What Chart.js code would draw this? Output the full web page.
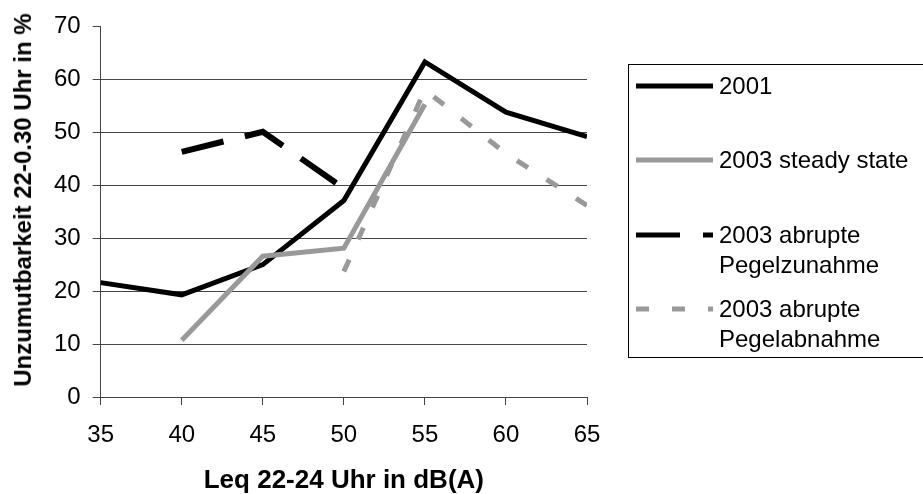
<!DOCTYPE html>
<html><head><meta charset="utf-8">
<script src="https://cdn.jsdelivr.net/npm/chart.js@4"></script>
<style>
html,body{margin:0;padding:0;background:#fff;}
#wrap{position:relative;width:923px;height:494px;overflow:hidden;font-family:"Liberation Sans",Arial,sans-serif;}
#c{position:absolute;left:0;top:0;}
#ytitle{position:absolute;left:23px;top:200px;transform:translate(-50%,-50%) rotate(-90deg);white-space:nowrap;font-weight:bold;font-size:24px;line-height:28px;color:#000;}
#legend{position:absolute;left:628px;top:64px;width:320px;height:294px;border:1px solid #000;box-sizing:border-box;}
.item{position:absolute;left:6px;font-size:24px;color:#000;line-height:30px;}
.item svg{position:absolute;left:0;}
.item span{position:absolute;left:84px;white-space:nowrap;}
</style></head>
<body><div id="wrap"><canvas id="c" width="923" height="494"></canvas>
<div id="ytitle"></div>
<div id="legend"></div></div>
<script>
const xValues = [35, 40, 45, 50, 55, 60, 65];
const s2001 = [21.6, 19.3, 25, 37.1, 63.3, 53.8, 49.2];
const sSteady = [null, 10.7, 26.6, 28.1, 55.3, null, null];
const sZunahme = [null, 46.3, 50.1, 39.4, null, null, null];
const sAbnahme = [null, null, null, 23.7, 58, 46, 36.2];
const seriesNames = ["2001", "2003 steady state", "2003 abrupte Pegelzunahme", "2003 abrupte Pegelabnahme"];
const yTicks = [0, 10, 20, 30, 40, 50, 60, 70];
const xTitle = 'Leq 22-24 Uhr in dB(A)';
const yTitle = 'Unzumutbarkeit 22-0.30 Uhr in %';

function pts(arr){ return xValues.map((x,i)=>({x:x,y:arr[i]})).filter(p=>p.y!==null); }

const GREY = '#999999';
const FAM = '"Liberation Sans", Arial, sans-serif';
const styles = [
  {color:'#000', width:5, dash:[]},
  {color:GREY, width:5, dash:[]},
  {color:'#000', width:6, dash:[43,22]},
  {color:GREY, width:5, dash:[13,22]}
];
const all = [s2001, sSteady, sZunahme, sAbnahme];

document.getElementById('ytitle').textContent = yTitle;

const ctx = document.getElementById('c');
new Chart(ctx, {
  type:'line',
  data:{datasets: all.map((a,i)=>({
    label: seriesNames[i], data: pts(a), order: 4 - i,
    borderColor: styles[i].color, borderWidth: styles[i].width,
    borderDash: styles[i].dash, pointRadius:0, fill:false, tension:0,
    borderCapStyle:'butt', borderJoinStyle:'miter'
  }))},
  options:{
    responsive:false, animation:false,
    layout:{padding:{left:42, right:336, top:26, bottom:0}},
    plugins:{legend:{display:false}, tooltip:{enabled:false}},
    scales:{
      x:{type:'linear', min:35, max:65,
        afterBuildTicks:(ax)=>{ax.ticks = xValues.map(v=>({value:v}));},
        grid:{drawOnChartArea:false, drawTicks:true, tickLength:8, color:'#444', tickColor:'#444'},
        border:{color:'#444', width:1},
        ticks:{color:'#000', font:{family:FAM, size:24, lineHeight:1.0}, padding:18, maxRotation:0},
        title:{display:true, text:xTitle, color:'#000', font:{family:FAM, size:26, weight:'bold', lineHeight:1.0}, padding:{top:3, bottom:0}}
      },
      y:{min:0, max:70,
        afterBuildTicks:(ax)=>{ax.ticks = yTicks.map(v=>({value:v}));},
        grid:{color:(c)=> (c.tick && c.tick.value===70) ? 'rgba(0,0,0,0)' : '#444', tickColor:'#444', drawTicks:true, tickLength:8, lineWidth:1},
        border:{color:'#444', width:1},
        ticks:{color:'#000', font:{family:FAM, size:24}, padding:12},
        title:{display:false}
      }
    }
  }
});

// legend (HTML, real text)
const legend = document.getElementById('legend');
const rows = [
  {lineY:21, lines:["2001"]},
  {lineY:95, lines:["2003 steady state"]},
  {lineY:170, lines:["2003 abrupte","Pegelzunahme"]},
  {lineY:244, lines:["2003 abrupte","Pegelabnahme"]}
];
rows.forEach((r,i)=>{
  const d = document.createElement('div');
  d.className='item';
  d.style.top = (r.lineY - 15) + 'px';
  const st = styles[i];
  const dashArr = i===2 ? '44,23' : (i===3 ? '13,23' : 'none');
  d.innerHTML = `<svg width="80" height="30" style="top:0"><line x1="1" y1="15" x2="78" y2="15" stroke="${st.color}" stroke-width="5" stroke-dasharray="${dashArr}"/></svg>` +
    r.lines.map((t,k)=>`<span style="top:${k*30}px">${t}</span>`).join('');
  legend.appendChild(d);
});
</script>
</body></html>
